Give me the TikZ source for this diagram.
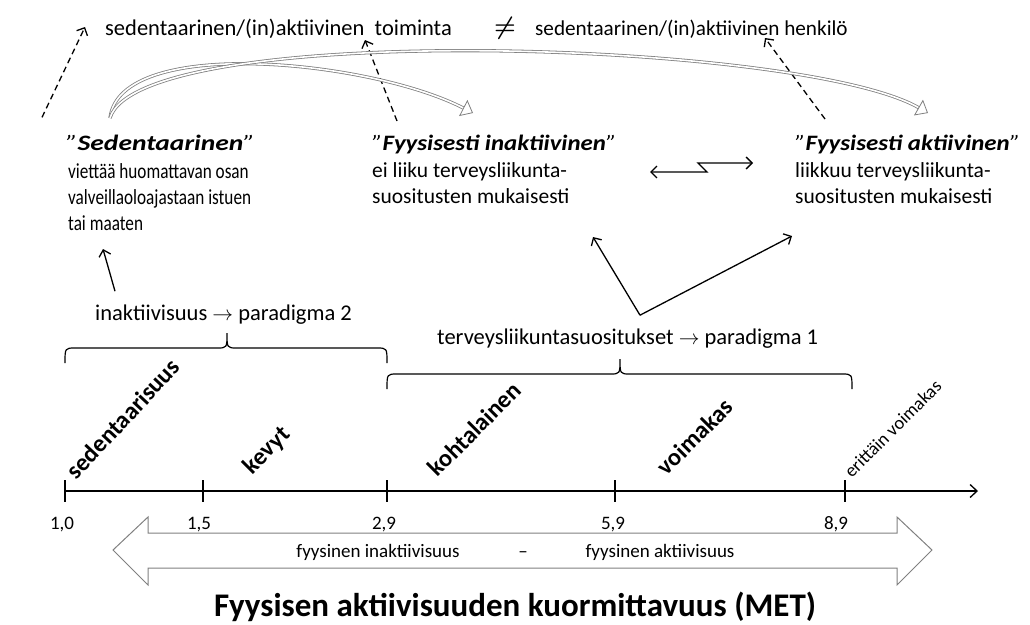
\documentclass[tikz,border=0pt]{standalone}
\usepackage{amsmath}
\usepackage{fontspec}
\setmainfont{Carlito}
\usetikzlibrary{positioning, arrows.meta}

\begin{document}
\begin{tikzpicture}[
  x=1pt, y=-1pt,
  top/.style={font=\fontsize{#1}{26}\selectfont, inner sep=0pt, anchor=base west},
  ttl/.style={font=\fontsize{22}{26}\selectfont\addfontfeatures{FakeStretch=#1},
    inner sep=0pt, anchor=base west},
  body/.style={font=\fontsize{21.5}{26}\selectfont\addfontfeatures{FakeStretch=#1},
    inner sep=0pt, align=left, anchor=north west},
  para/.style={font=\fontsize{22.5}{26}\selectfont, inner sep=0pt, anchor=base west},
  small/.style={font=\fontsize{19}{22}\selectfont, inner sep=0pt, anchor=base},
  cat/.style={font=\fontsize{24.5}{28}\selectfont\bfseries, rotate=45, anchor=south west, inner sep=0pt},
  arr/.style={line width=1.3pt, -{Straight Barb[length=6pt,width=12pt]}},
  dasharr/.style={arr, dash pattern=on 6pt off 4pt},
  hollow/.style={draw=gray, double=white, double distance=1.6pt, line width=0.8pt,
    -{Triangle[open, length=11pt, width=18pt]}},
]
\useasboundingbox (0,0) rectangle (1030,624);

  % Top row: activity vs. person
  \node[top=22.5] (act) at (105,35) {sedentaarinen/(in)aktiivinen\ \ toiminta};
  \node[font=\fontsize{24}{24}\selectfont] (neq) at (505,28) {$\boldsymbol{\neq}$};
  \node[top=21.2] (pers) at (535,35) {sedentaarinen/(in)aktiivinen henkilö};

  % Three definitions
  \node[ttl=1.25] (sedt) at (66,150) {\textit{”}\textbf{\textit{Sedentaarinen}}\textit{”}};
  \node[body=0.8] (sed) at (68,163)
    {viettää huomattavan osan\\ valveillaoloajastaan istuen\\ tai maaten};
  \node[ttl=1.13] (inactt) at (372,150) {\textit{”}\textbf{\textit{Fyysisesti inaktiivinen}}\textit{”}};
  \node[body=1] (inact) at (372,162.5) {ei liiku terveysliikunta-\\ suositusten mukaisesti};
  \node[ttl=1.13] (activt) at (795,150) {\textit{”}\textbf{\textit{Fyysisesti aktiivinen}}\textit{”}};
  \node[body=1] (activ) at (795,162.5) {liikkuu terveysliikunta-\\ suositusten mukaisesti};

  \coordinate (d1) at (85,27);
  \coordinate (d2) at (365,40);
  \coordinate (d3) at (765,38);
  \draw[dasharr] ([xshift=-24pt,yshift=25pt]sedt.west) -- (d1);
  \draw[dasharr] ([xshift=25pt,yshift=23pt]inactt.west) -- (d2);
  \draw[dasharr] ([xshift=30pt,yshift=25pt]activt.west) -- (d3);

  \draw[hollow] (110,118) .. controls (120,35) and (370,60) .. (473,113);
  \draw[hollow] (110,118) .. controls (140,20) and (800,40) .. (928,113);

  \coordinate (zl) at (650,172);
  \coordinate (zr) at (753,163);
  \draw[line width=1.3pt, {Straight Barb[length=6pt,width=12pt]}-{Straight Barb[length=6pt,width=12pt]}]
    (zl) -- (707,172) -- (698,163) -- (zr);

  % Paradigms
  \node[para] (para2) at (95,320) {inaktiivisuus $\rightarrow$ paradigma 2};
  \node[para] (para1) at (437,344) {terveysliikuntasuositukset $\rightarrow$ paradigma 1};
  \coordinate (up2) at (103,249);
  \coordinate (upl) at (593,237);
  \coordinate (upr) at (792,236);
  \draw[arr] ([xshift=20pt,yshift=13pt]para2.north west) -- (up2);
  \draw[arr] ([xshift=203pt,yshift=13pt]para1.north west) -- (upl);
  \draw[arr] ([xshift=203pt,yshift=13pt]para1.north west) -- (upr);

  \foreach \a/\m/\b/\y in {65/227/387/363, 387/620/852/389}
    \draw[line width=1.2pt] (\a,\y) .. controls (\a,\y-15) .. (\a+10,\y-15) -- (\m-10,\y-15)
      .. controls (\m,\y-15) .. (\m,\y-30) .. controls (\m,\y-15) .. (\m+10,\y-15)
      -- (\b-10,\y-15) .. controls (\b,\y-15) .. (\b,\y);

  % Intensity axis
  \draw[line width=1.3pt, -{Straight Barb[length=7pt,width=13pt]}] (65,491) -- (978,491);
  \foreach \x/\lx/\v in {65/62/{1,0}, 203/199/{1,5}, 387/384/{2,9}, 615/613/{5,9}, 845/836/{8,9}} {
    \draw[line width=1.3pt] (\x,480) -- (\x,502);
    \node[small] (tick\x) at (\lx,529) {\v};
  }
  \node[cat, rotate=2] (sedn) at (77,481) {sedentaarisuus};
  \node[cat] (kev) at (255,478) {kevyt};
  \node[cat] (koh) at (438,478) {kohtalainen};
  \node[cat] (voi) at (667,477) {voimakas};
  \node[font=\fontsize{18.5}{20}\selectfont, inner sep=0pt, rotate=45, anchor=south west] (eri)
    at (852,479) {erittäin voimakas};

  % Inactivity - activity arrow
  \draw[gray, line width=1pt] (113,550) -- (148,517) -- (148,533) -- (897,533) -- (897,517)
    -- (932,550) -- (897,585) -- (897,568) -- (148,568) -- (148,585) -- cycle;
  \node[small] (inak) at (378,557) {fyysinen inaktiivisuus};
  \node[small] (dash1) at (523,557) {–};
  \node[small] (akt) at (660,557) {fyysinen aktiivisuus};

  \node[font=\fontsize{33}{36}\selectfont\bfseries, inner sep=0pt, anchor=base] (title) at (515,616)
    {Fyysisen aktiivisuuden kuormittavuus (MET)};
\end{tikzpicture}
\end{document}
